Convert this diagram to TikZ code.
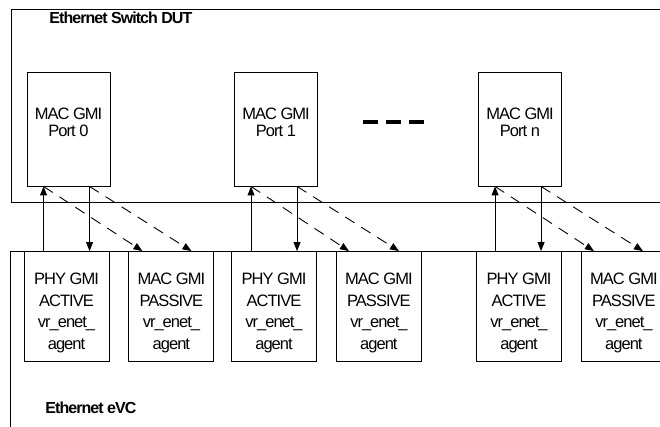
\documentclass[tikz,border=0pt]{standalone}
\usepackage{fontspec}
\setmainfont{Liberation Sans}[LetterSpace=-6]
\usetikzlibrary{positioning,calc,arrows.meta}

\begin{document}
\begin{tikzpicture}[
      x=1pt, y=-1pt, line width=0.9pt,
      >={Triangle[width=7pt,length=9pt]}, node distance=19pt,
      port/.style={draw,minimum width=83pt,minimum height=114pt,inner sep=0pt},
      agentbox/.style={draw,minimum width=85pt,minimum height=110pt,inner sep=0pt},
      porttxt/.style={align=center,inner sep=0pt,font=\fontsize{16.5}{17.5}\selectfont},
      agenttxt/.style={align=center,inner sep=0pt,font=\fontsize{16.5}{21.5}\selectfont},
      title/.style={anchor=west,inner sep=0pt,font=\bfseries\fontsize{16}{17}\selectfont},
      tap/.style={->,dash pattern=on 11pt off 8pt},
    ]
    \path[use as bounding box,clip] (0,0) rectangle (660,427);
    % switch and eVC containers
    \draw (700,9) -- (11,9) -- (11,202) -- (700,202);
    \draw (700,251) -- (10,251) -- (10,440);
    \node[title] (dut) at (49,18) {Ethernet Switch DUT};
    \node[title] (evc) at (45,408) {Ethernet eVC};
    % MAC ports of the DUT
    \node[port] (mac0) at (68.5,129) {};
    \node[port] (mac1) at (276,129) {};
    \node[port] (macn) at (520,129) {};
    \node[porttxt] (mac0t) at ([yshift=6.5pt]mac0.center) {MAC GMI\\Port 0};
    \node[porttxt] (mac1t) at ([yshift=6.5pt]mac1.center) {MAC GMI\\Port 1};
    \node[porttxt] (macnt) at ([yshift=6.5pt]macn.center) {MAC GMI\\Port n};
    \draw[line width=4pt,dash pattern=on 15pt off 8pt] (363,122) -- (424,122);
    % agents of the eVC
    \node[agentbox] (phy0) at (66.5,306.5) {};
    \node[agentbox, right=of phy0] (mon0) {};
    \node[agentbox] (phy1) at (274,306.5) {};
    \node[agentbox, right=of phy1] (mon1) {};
    \node[agentbox] (phyn) at (519,306.5) {};
    \node[agentbox, right=of phyn] (monn) {};
    \node[agenttxt] (phy0t) at ([yshift=-6.5pt]phy0.center) {PHY GMI\\ACTIVE\\vr\_enet\_\\agent};
    \node[agenttxt] (mon0t) at ([yshift=-6.5pt]mon0.center) {MAC GMI\\PASSIVE\\vr\_enet\_\\agent};
    \node[agenttxt] (phy1t) at ([yshift=-6.5pt]phy1.center) {PHY GMI\\ACTIVE\\vr\_enet\_\\agent};
    \node[agenttxt] (mon1t) at ([yshift=-6.5pt]mon1.center) {MAC GMI\\PASSIVE\\vr\_enet\_\\agent};
    \node[agenttxt] (phynt) at ([yshift=-6.5pt]phyn.center) {PHY GMI\\ACTIVE\\vr\_enet\_\\agent};
    \node[agenttxt] (monnt) at ([yshift=-6.5pt]monn.center) {MAC GMI\\PASSIVE\\vr\_enet\_\\agent};
    % tx / rx and passive taps
    \coordinate (up0) at ($(mac0.south west)+(17,0)$);
    \coordinate (dn0) at ($(mac0.south west)+(63,0)$);
    \coordinate (up1) at ($(mac1.south west)+(17,0)$);
    \coordinate (dn1) at ($(mac1.south west)+(63,0)$);
    \coordinate (upn) at ($(macn.south west)+(17,0)$);
    \coordinate (dnn) at ($(macn.south west)+(63,0)$);
    \draw[->] (up0 |- phy0.north) -- (up0);
    \draw[->] (dn0) -- (dn0 |- phy0.north);
    \draw[tap] (up0) -- ($(mon0.north west)+(14,0)$);
    \draw[tap] (dn0) -- ($(mon0.north west)+(63,0)$);
    \draw[->] (up1 |- phy1.north) -- (up1);
    \draw[->] (dn1) -- (dn1 |- phy1.north);
    \draw[tap] (up1) -- ($(mon1.north west)+(13,0)$);
    \draw[tap] (dn1) -- ($(mon1.north west)+(63,0)$);
    \draw[->] (upn |- phyn.north) -- (upn);
    \draw[->] (dnn) -- (dnn |- phyn.north);
    \draw[tap] (upn) -- ($(monn.north west)+(13,0)$);
    \draw[tap] (dnn) -- ($(monn.north west)+(62,0)$);
  \end{tikzpicture}
\end{document}
